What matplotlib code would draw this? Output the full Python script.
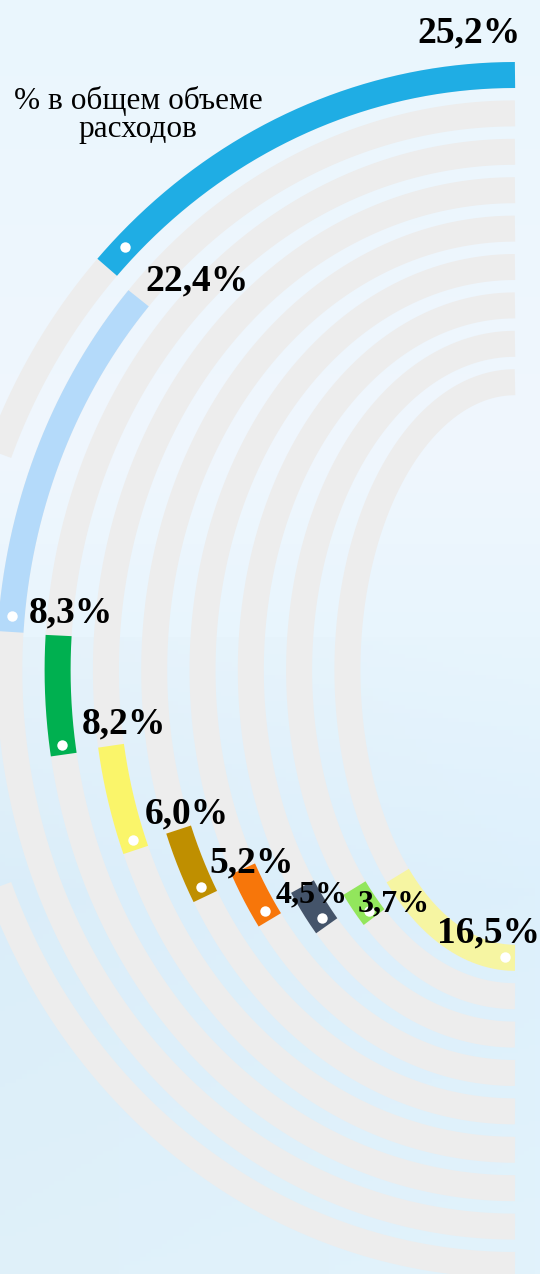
import numpy as np
import matplotlib.pyplot as plt

# shares of total spending, one ring per item (outer -> inner)
shares = [25.2, 22.4, 8.3, 8.2, 6.0, 5.2, 4.5, 3.7, 16.5]
labels = ['25,2%', '22,4%', '8,3%', '8,2%', '6,0%', '5,2%', '4,5%', '3,7%', '16,5%']
colors = ['#1FADE4', '#B4DAFA', '#00B050', '#FAF56A', '#BF8F00',
          '#F7760A', '#44546A', '#92E65C', '#F6F5A2']
title_lines = ['% в общем объеме', 'расходов']

# layout (pixels)
W, H = 540, 1274
cx, cy = 515, 670
rx0, ry0 = 554, 595
drx, dry = 48.3, 38.4
band = 26
label_pos = [(469, 42), (197, 290), (71, 622), (124, 733), (187, 823),
             (252, 872), (312, 902), (394, 911), (488, 942)]
label_size = [27, 27, 27, 27, 27, 27, 23, 23, 27]
dot_inset = [27, 16, 10, 10, 10, 10, 9, 8, 10]

fig = plt.figure(figsize=(W / 100, H / 100), dpi=100)
ax = fig.add_axes([0, 0, 1, 1])
ax.set_xlim(0, W)
ax.set_ylim(H, 0)
ax.axis('off')

# soft sky background
ys = np.linspace(0, 1, 300)
stops = [0, 0.35, 0.5, 0.7, 1.0]
cols = np.array([[234, 246, 253], [240, 247, 253], [232, 245, 253],
                 [221, 240, 252], [226, 243, 252]]) / 255
grad = np.stack([np.interp(ys, stops, cols[:, i]) for i in range(3)], axis=1)
xs = np.linspace(0, 1, 100)
bg = grad[:, None, :] * np.ones((1, len(xs), 1))
bg = bg - 0.01 * (1 - xs)[None, :, None] * (ys > 0.5)[:, None, None]
ax.imshow(np.clip(bg, 0, 1), extent=[0, W, H, 0], aspect='auto', zorder=0)

lw = band * 72 / 100
total = sum(shares)
bounds = np.radians(np.concatenate([[0], np.cumsum(shares)]) * 180 / total)


def t_of(phi, rx, ry):
    return np.arctan2(ry * np.sin(phi), rx * np.cos(phi))


def pt(t, rx, ry):
    return cx - rx * np.sin(t), cy - ry * np.cos(t)


for k in range(len(shares)):
    rx = rx0 - drx * k
    ry = ry0 - dry * k
    t = np.linspace(0, np.pi, 500)
    x, y = pt(t, rx, ry)
    ax.plot(x, y, color='#EDEDED', lw=lw, solid_capstyle='butt', zorder=1)

    t0 = t_of(bounds[k], rx, ry)
    t1 = t_of(bounds[k + 1], rx, ry)
    ts = np.linspace(t0, t1, 200)
    x, y = pt(ts, rx, ry)
    ax.plot(x, y, color=colors[k], lw=lw, solid_capstyle='butt', zorder=2)

    speed = np.hypot(rx * np.cos(t1), ry * np.sin(t1))
    td = t1 - dot_inset[k] / speed
    dx, dy = pt(td, rx, ry)
    ax.plot(dx, dy, 'o', color='white', ms=7.5, mec='none', zorder=3)

    lx, ly = label_pos[k]
    ax.text(lx, ly, labels[k], ha='center', va='baseline',
            family='Liberation Serif', weight='bold',
            fontsize=label_size[k], color='black', zorder=4)

ax.text(138, 109, title_lines[0], ha='center', va='baseline',
        family='Liberation Serif', fontsize=22.5, color='black')
ax.text(138, 137, title_lines[1], ha='center', va='baseline',
        family='Liberation Serif', fontsize=22.5, color='black')

fig.savefig('out.png', dpi=100)
